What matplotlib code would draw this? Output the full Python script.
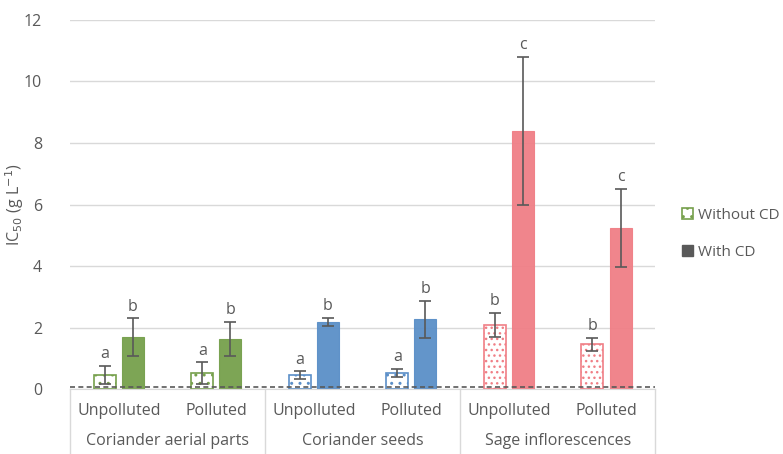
import numpy as np
import matplotlib.pyplot as plt
from matplotlib.patches import Patch
from matplotlib.transforms import blended_transform_factory

plt.rcParams['font.family'] = ['Open Sans', 'DejaVu Sans']
plt.rcParams['hatch.linewidth'] = 1.0

# IC50 values (g/L) per sample, without and with cyclodextrin
groups = ["Coriander aerial parts", "Coriander seeds", "Sage inflorescences"]
conditions = ["Unpolluted", "Polluted"]
without_cd = [0.45, 0.52, 0.45, 0.52, 2.08, 1.46]
without_err = [0.30, 0.35, 0.13, 0.13, 0.40, 0.21]
with_cd = [1.68, 1.63, 2.18, 2.27, 8.40, 5.24]
with_err = [0.62, 0.55, 0.13, 0.60, 2.40, 1.28]
letters_without = ["a", "a", "a", "a", "b", "b"]
letters_with = ["b", "b", "b", "b", "c", "c"]
threshold = 0.08

colors = ["#76a04c", "#76a04c", "#5b8fc8", "#5b8fc8", "#f07f86", "#f07f86"]
hatches = ["..", "..", "..", "..", "...", "..."]
grey = "#595959"
text_grey = "#595959"

fig = plt.figure(figsize=(7.83, 4.54), dpi=100)
ax = fig.add_axes([0.0894, 0.143, 0.7475, 0.813])

x = np.arange(len(with_cd))
w = 0.226
off = 0.144

for i in x:
    ax.bar(i - off, without_cd[i], w, facecolor="white", edgecolor=colors[i],
           hatch=hatches[i], linewidth=1.2, zorder=2)
    ax.bar(i + off, with_cd[i], w, color=colors[i], edgecolor=colors[i],
           alpha=0.95, linewidth=0.8, zorder=2)

ax.errorbar(x - off, without_cd, yerr=without_err, fmt="none", ecolor=grey,
            elinewidth=1.2, capsize=4, capthick=1.2, zorder=3)
ax.errorbar(x + off, with_cd, yerr=with_err, fmt="none", ecolor=grey,
            elinewidth=1.2, capsize=4, capthick=1.2, zorder=3)

for i in x:
    ax.text(i - off, without_cd[i] + without_err[i] + 0.12, letters_without[i],
            ha="center", va="bottom", fontsize=11.5, color=text_grey)
    ax.text(i + off, with_cd[i] + with_err[i] + 0.12, letters_with[i],
            ha="center", va="bottom", fontsize=11.5, color=text_grey)

# dashed reference line
ax.axhline(threshold, color=grey, linestyle=(0, (3, 2)), linewidth=1.2, zorder=4)

ax.set_xlim(-0.5, 5.5)
ax.set_ylim(0, 12)
ax.set_yticks(np.arange(0, 13, 2))
ax.yaxis.grid(True, color="#d9d9d9", linewidth=1)
ax.set_axisbelow(True)
for s in ["top", "right", "left"]:
    ax.spines[s].set_visible(False)
ax.spines["bottom"].set_color("#d9d9d9")
ax.tick_params(axis="y", length=0, labelsize=11.5, colors=text_grey, pad=20)
ax.set_xticks([])
ax.set_ylabel("IC$_{50}$ (g L$^{-1}$)", fontsize=11.5, color=text_grey)
ax.yaxis.set_label_coords(-0.076, 0.5)

# two-level category axis
trans = blended_transform_factory(ax.transData, ax.transAxes)
for i in x:
    ax.text(i, -0.06, conditions[i % 2], transform=trans, ha="center",
            va="center", fontsize=11.5, color=text_grey)
for g, name in enumerate(groups):
    ax.text(2 * g + 0.5, -0.142, name, transform=trans, ha="center",
            va="center", fontsize=11.5, color=text_grey)
for b in [-0.5, 1.5, 3.5, 5.5]:
    ax.plot([b, b], [0, -0.2], transform=trans, color="#d9d9d9",
            linewidth=1, clip_on=False)

handles = [Patch(facecolor="white", edgecolor=colors[0], hatch="..", linewidth=1.2),
           Patch(facecolor=grey, edgecolor=grey)]
leg = fig.legend(handles, ["Without CD", "With CD"], loc="center left",
                 bbox_to_anchor=(0.871, 0.485), frameon=False, fontsize=11,
                 handlelength=0.75, handleheight=0.75, handletextpad=0.3,
                 labelspacing=1.45, borderaxespad=0, borderpad=0)
for t in leg.get_texts():
    t.set_color(text_grey)

fig.savefig("out.png", dpi=100)
